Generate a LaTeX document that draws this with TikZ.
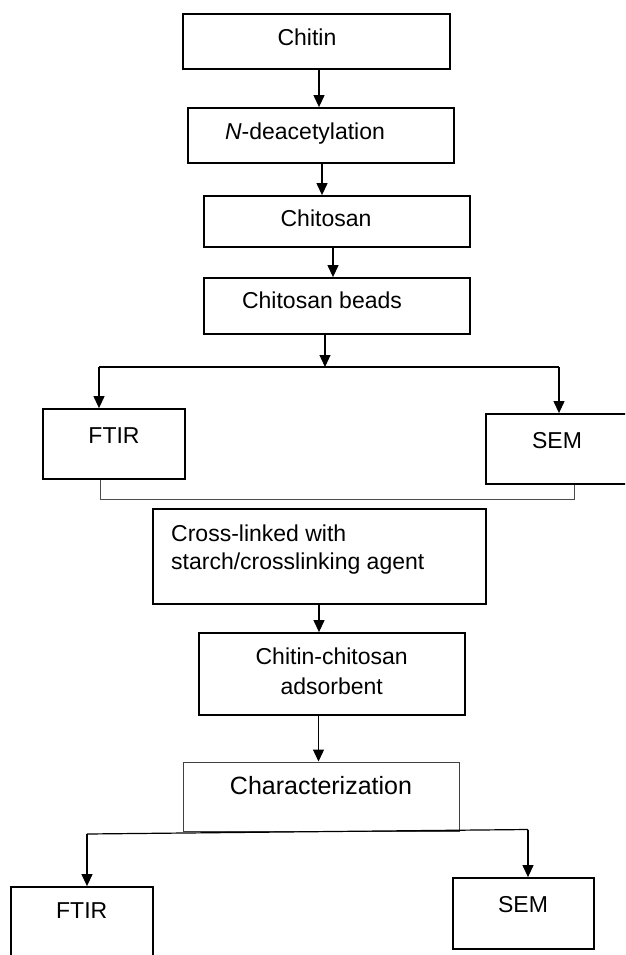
\documentclass[tikz,border=0pt]{standalone}
\usepackage{fontspec}
\setmainfont{Liberation Sans}
\usetikzlibrary{arrows.meta}
\begin{document}
\begin{tikzpicture}[x=1pt,y=-1pt,
  box/.style={draw, line width=1.8pt, inner sep=0pt},
  thinbox/.style={draw=black!75, line width=1pt, inner sep=0pt},
  lbl/.style={inner sep=0pt, font=\fontsize{23}{27}\selectfont},
  biglbl/.style={inner sep=0pt, font=\fontsize{25}{29}\selectfont},
  con/.style={line width=1.2pt},
  joinline/.style={draw=black!70, line width=1pt},
  arr/.style={con, -{Triangle[length=12pt,width=11pt]}}]
\path[use as bounding box] (0,0) rectangle (625,955);
\clip (0,0) rectangle (625,955);
% boxes
\node[box, minimum width=267pt, minimum height=55pt] (chitin) at (316.5,41.5) {};
\node[box, minimum width=266pt, minimum height=55pt] (ndeac) at (321,135.5) {};
\node[box, minimum width=266pt, minimum height=51pt] (chitosan) at (337,221.5) {};
\node[box, minimum width=266pt, minimum height=56pt] (beads) at (337,306) {};
\node[box, minimum width=142pt, minimum height=70pt] (ftirA) at (114,444) {};
\node[box, minimum width=142pt, minimum height=70pt] (semA) at (557,449) {};
\node[box, minimum width=333pt, minimum height=95pt] (cross) at (319.5,556.5) {};
\node[box, minimum width=266pt, minimum height=82pt] (adsorb) at (332,674) {};
\node[thinbox, minimum width=276pt, minimum height=69pt] (charz) at (321,796.5) {};
\node[box, minimum width=142pt, minimum height=75pt] (ftirB) at (82,924.5) {};
\node[box, minimum width=141pt, minimum height=71pt] (semB) at (523.5,913.5) {};
% labels
\node[lbl, anchor=base] (tchitin) at (307,45.7) {Chitin};
\node[lbl, anchor=base] (tndeac) at (305,139.2) {\textit{N}-deacetylation};
\node[lbl, anchor=base] (tchitosan) at (326,226.2) {Chitosan};
\node[lbl, anchor=base] (tbeads) at (322,308.2) {Chitosan beads};
\node[lbl, anchor=base] (tftirA) at (114,443.2) {FTIR};
\node[lbl, anchor=base] (tsemA) at (557,448.2) {SEM};
\node[lbl, anchor=base west] (tcross1) at (171,541.2) {Cross-linked with};
\node[lbl, anchor=base west] (tcross2) at (171,569.2) {starch/crosslinking agent};
\node[lbl, anchor=base] (tads1) at (331.7,664.7) {Chitin-chitosan};
\node[lbl, anchor=base] (tads2) at (331.7,694.2) {adsorbent};
\node[biglbl, anchor=base] (tcharz) at (321,794) {Characterization};
\node[lbl, anchor=base] (tftirB) at (81.7,918.7) {FTIR};
\node[lbl, anchor=base] (tsemB) at (523,912.7) {SEM};
% connectors
\draw[arr] (319,0 |- chitin.south) -- (319,0 |- ndeac.north);
\draw[arr] (322,0 |- ndeac.south) -- (322,0 |- chitosan.north);
\draw[arr] (333,0 |- chitosan.south) -- (333,0 |- beads.north);
\coordinate (splitL) at (99,367);
\coordinate (splitR) at (559,367);
\coordinate (splitM) at (325,367);
\draw[con] (splitL) -- (splitR);
\draw[arr] (325,0 |- beads.south) -- (splitM);
\draw[arr] (splitL) -- (splitL |- ftirA.north);
\draw[arr] (splitR) -- (splitR |- semA.north);
\draw[joinline] (100,0 |- ftirA.south) -- (100,499) -- (574,499) -- (574,0 |- semA.south);
\draw[arr] (319,0 |- cross.south) -- (319,0 |- adsorb.north);
\draw[arr] (318.5,0 |- adsorb.south) -- (318.5,0 |- charz.north);
\coordinate (botL) at (87,834);
\coordinate (botR) at (528,829.5);
\draw[con] (botL) -- (botR);
\draw[arr] (botL) -- (botL |- ftirB.north);
\draw[arr] (botR) -- (botR |- semB.north);
\end{tikzpicture}
\end{document}
